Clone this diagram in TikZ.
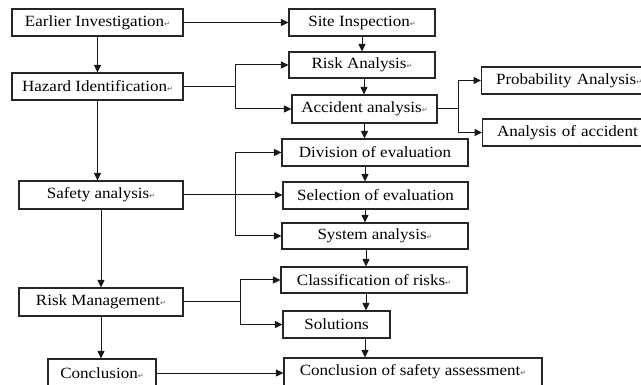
\documentclass[tikz,border=0pt]{standalone}
\usepackage{fontspec}
\setmainfont[FakeStretch=1.09]{Liberation Serif}
\newfontfamily\symfont{DejaVu Sans}
\usetikzlibrary{arrows.meta}
\newcommand{\retmark}{{\symfont\fontsize{7}{7}\selectfont\color{black!65}↵}}
\tikzset{
  box/.style={draw=black!85, line width=1.1pt, fill=white, inner sep=0pt,
    font=\fontsize{15.6}{18}\selectfont},
  leftbox/.style={box, anchor=west, text width=170pt, align=left, inner xsep=14.5pt},
  conn/.style={line width=1pt, draw=black!90},
  arr/.style={conn, -{Triangle[length=7.5pt,width=7pt]}}
}
\begin{document}
\begin{tikzpicture}[x=1pt,y=-1pt]
\useasboundingbox (0,0) rectangle (641,385);
\clip (0,0) rectangle (641,385);
\fill[white] (0,0) rectangle (641,385);
% left column
\node[box, minimum width=171pt, minimum height=27pt] (ei) at (97.5,22.5) {Earlier Investigation\retmark};
\node[box, minimum width=171pt, minimum height=27pt] (hi) at (97.5,86.5) {Hazard Identification\retmark};
\node[box, minimum width=164pt, minimum height=28pt] (sa) at (101,195) {Safety analysis\retmark};
\node[box, minimum width=164pt, minimum height=28pt] (rm) at (101,302) {Risk Management\retmark};
\node[box, minimum width=108pt, minimum height=28pt] (cl) at (102,373) {Conclusion\retmark};
% middle column
\node[box, minimum width=146pt, minimum height=27pt] (si) at (362,22.5) {Site Inspection\retmark};
\node[box, minimum width=146pt, minimum height=26pt] (ra) at (362,65) {Risk Analysis\retmark};
\node[box, minimum width=145pt, minimum height=28pt] (aa) at (364.5,109) {Accident analysis\retmark};
\node[box, minimum width=186pt, minimum height=27pt] (de) at (375,152.5) {Division of evaluation};
\node[box, minimum width=185pt, minimum height=27pt] (se) at (375.5,195.5) {Selection of evaluation};
\node[box, minimum width=186pt, minimum height=26pt] (sy) at (375,236) {System analysis\retmark};
\node[box, minimum width=186pt, minimum height=26pt] (cr) at (374,280) {Classification of risks\retmark};
\node[box, minimum width=107pt, minimum height=27pt] (so) at (336.5,324.5) {Solutions};
\node[box, minimum width=258pt, minimum height=28pt] (cs) at (413,372) {Conclusion of safety assessment\retmark};
% right column
\node[leftbox, minimum height=27pt] (pa) at (481,80.5) {Probability Analysis\retmark};
\node[leftbox, minimum height=27pt] (ac) at (482,132.5) {Analysis of accident};
% junction points
\coordinate (j1) at (235,86.5);
\coordinate (j2) at (458,109);
\coordinate (j3) at (235,195);
\coordinate (j4) at (240,302);
% connectors
\draw[arr] (ei.east) -- (ei.east -| si.west);
\draw[arr] (ei.south) -- (ei.south |- hi.north);
\draw[arr] (hi.south) -- (hi.south |- sa.north);
\draw[arr] (sa.south) -- (sa.south |- rm.north);
\draw[arr] (rm.south) -- (rm.south |- cl.north);
\draw[arr] (cl.east) -- (cl.east -| cs.west);
\draw[arr] (si.south) -- (si.south |- ra.north);
\draw[arr] ([xshift=2pt]ra.south) -- ([xshift=2pt]ra.south |- aa.north);
\draw[arr] (aa.south) -- (aa.south |- de.north);
\draw[arr] ([xshift=-10pt]de.south) -- ([xshift=-10pt]de.south |- se.north);
\draw[arr] ([xshift=-10.5pt]se.south) -- ([xshift=-10.5pt]se.south |- sy.north);
\draw[arr] ([xshift=-9pt]sy.south) -- ([xshift=-9pt]sy.south |- cr.north);
\draw[arr] ([xshift=-8pt]cr.south) -- ([xshift=-8pt]cr.south |- so.north);
\draw[arr] ([xshift=28.5pt]so.south) -- ([xshift=28.5pt]so.south |- cs.north);
% branches
\draw[conn] (hi.east) -- (j1);
\draw[arr] (j1) |- (ra.west);
\draw[arr] (j1) |- (aa.west);
\draw[conn] (aa.east) -- (j2);
\draw[arr] (j2) |- (pa.west);
\draw[arr] (j2) |- (ac.west);
\draw[conn] (sa.east) -- (j3);
\draw[arr] (j3) |- (de.west);
\draw[arr] (j3) -- (j3 -| se.west);
\draw[arr] (j3) |- (sy.west);
\draw[conn] (rm.east) -- (j4);
\draw[arr] (j4) |- (cr.west);
\draw[arr] (j4) |- (so.west);
\end{tikzpicture}
\end{document}
